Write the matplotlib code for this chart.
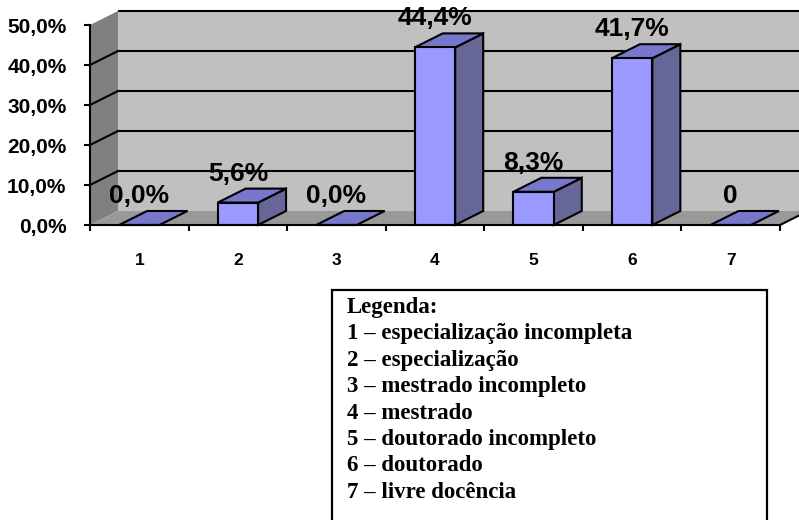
import matplotlib
matplotlib.use("Agg")
import matplotlib.pyplot as plt
from matplotlib.patches import Polygon, Rectangle

# ---- data -------------------------------------------------------------
categories = [1, 2, 3, 4, 5, 6, 7]
values = [0.0, 5.6, 0.0, 44.4, 8.3, 41.7, 0.0]
value_labels = ["0,0%", "5,6%", "0,0%", "44,4%", "8,3%", "41,7%", "0"]
y_ticks = [0, 10, 20, 30, 40, 50]
y_tick_labels = ["0,0%", "10,0%", "20,0%", "30,0%", "40,0%", "50,0%"]
legend_title = "Legenda:"
legend_names = [
    "especialização incompleta",
    "especialização",
    "mestrado incompleto",
    "mestrado",
    "doutorado incompleto",
    "doutorado",
    "livre docência",
]

# ---- style ------------------------------------------------------------
SANS = ["Liberation Sans", "DejaVu Sans"]
SERIF = ["Liberation Serif", "DejaVu Serif"]
FRONT = "#9999FF"
SIDE = "#666699"
TOP = "#7777CC"
WALL = "#C0C0C0"
SIDE_WALL = "#808080"
FLOOR = "#999999"
LW = 1.5

W, H = 799, 520
fig = plt.figure(figsize=(W / 100, H / 100), dpi=100)
fig.patch.set_facecolor("white")

# front plane of the 3-D box
x0, x1 = 90, 780
y0, y1 = 225, 25
ax = fig.add_axes([x0 / W, (H - y0) / H, (x1 - x0) / W, (y0 - y1) / H])
ax.set_xlim(0.5, 7.5)
ax.set_ylim(0, 50)
ax.patch.set_visible(False)

# depth of the box expressed in data units
px_per_x = (x1 - x0) / 7.0
px_per_y = (y0 - y1) / 50.0
DX = 28 / px_per_x
DY = 14 / px_per_y

xl, xr = 0.5, 7.5
ymax = y_ticks[-1]

def poly(pts, fc, ec="none", lw=0.0, z=1):
    p = Polygon(pts, closed=True, facecolor=fc, edgecolor=ec, linewidth=lw,
                zorder=z, clip_on=False, joinstyle="miter")
    ax.add_patch(p)

# walls and floor
poly([(xl + DX, DY), (xr + DX, DY), (xr + DX, ymax + DY), (xl + DX, ymax + DY)], WALL, z=0.5)
poly([(xl, 0), (xl + DX, DY), (xl + DX, ymax + DY), (xl, ymax)], SIDE_WALL, z=0.6)
poly([(xl, 0), (xr, 0), (xr + DX, DY), (xl + DX, DY)], FLOOR, z=0.6)

# gridlines on back wall and side wall
for t in y_ticks[1:]:
    ax.plot([xl + DX, xr + DX], [t + DY, t + DY], color="black", lw=LW,
            zorder=0.8, clip_on=False, solid_capstyle="butt")
    if t < ymax:
        ax.plot([xl, xl + DX], [t, t + DY], color="black", lw=LW,
                zorder=0.8, clip_on=False)
# right end of the floor
ax.plot([xr, xr + DX], [0, DY], color="black", lw=LW, zorder=3, clip_on=False)

# bars
bw = 0.41
ax.bar(categories, values, width=bw, color=FRONT, edgecolor="black",
       linewidth=LW, zorder=2.2, clip_on=False)
for c, v in zip(categories, values):
    l, r = c - bw / 2, c + bw / 2
    if v > 0:
        poly([(r, 0), (r + DX, DY), (r + DX, v + DY), (r, v)], SIDE, "black", LW, 2.1)
    poly([(l, v), (r, v), (r + DX, v + DY), (l + DX, v + DY)], TOP, "black", LW, 2.1)

# value labels
for c, v, s in zip(categories, values, value_labels):
    ax.text(c, v + DY + 0.75, s, ha="center", va="bottom", fontsize=19,
            fontweight="bold", family=SANS, zorder=4, clip_on=False)

# axes
for side in ("top", "right"):
    ax.spines[side].set_visible(False)
for side in ("left", "bottom"):
    ax.spines[side].set_linewidth(LW)
    ax.spines[side].set_zorder(3)
ax.set_yticks(y_ticks)
ax.set_yticklabels(y_tick_labels, fontsize=15, fontweight="bold", family=SANS)
ax.tick_params(axis="y", direction="out", length=4, width=LW, pad=13)
ax.set_xticks(categories)
ax.set_xticklabels([str(c) for c in categories], fontsize=12.5, fontweight="bold", family=SANS)
ax.set_xticks([c - 0.5 for c in categories] + [categories[-1] + 0.5], minor=True)
ax.tick_params(axis="x", which="major", length=0, pad=20)
ax.tick_params(axis="x", which="minor", direction="out", length=4.5, width=LW)

# legend box
bx0, bx1, by0 = 332, 767, 290
fig.patches.append(Rectangle((bx0 / W, -0.05), (bx1 - bx0) / W, (H - by0) / H + 0.05,
                             transform=fig.transFigure, facecolor="white",
                             edgecolor="black", linewidth=1.6, zorder=1))
lines = [legend_title] + [f"{c} – {n}" for c, n in zip(categories, legend_names)]
for i, s in enumerate(lines):
    base = 313 + 26.4 * i
    fig.text(347 / W, (H - base) / H, s, ha="left", va="baseline", fontsize=16.5,
             fontweight="bold", family=SERIF, zorder=2)

fig.savefig("out.png", dpi=100)
